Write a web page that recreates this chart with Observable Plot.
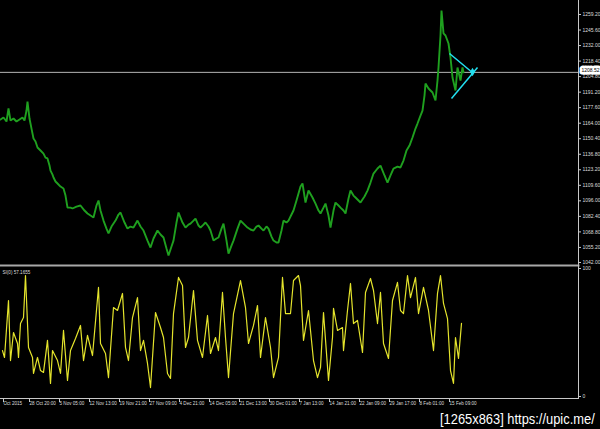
<!DOCTYPE html>
<html><head><meta charset="utf-8">
<script src="https://cdn.jsdelivr.net/npm/d3@7"></script>
<script src="https://cdn.jsdelivr.net/npm/@observablehq/plot@0.6"></script>
<style>
html,body{margin:0;padding:0;background:#000;}
#wrap{position:relative;width:600px;height:429px;background:#000;overflow:hidden;font-family:"Liberation Sans",Arial,sans-serif;}
#top{position:absolute;left:0;top:0;}
#bot{position:absolute;left:0;top:264px;}
#wm{position:absolute;left:440px;top:407px;}
svg{overflow:visible;}
</style></head><body>
<div id="wrap"><div id="top"></div><div id="bot"></div>
<svg id="wm" width="158" height="21"><text x="0" y="14.5" transform="scale(1,1.18)" fill="#fff" font-family="Liberation Sans" font-size="12.9">[1265x863] https://upic.me/</text></svg>
</div>
<script>
// ---- data ----
const priceBars = [
0,3,6,8,10,13,16,19,22,24,
26,27,29,31,33,35,37,40,43,45,
47,49,50,52,53,55,57,60,63,65,
67,70,72,76,80,84,87,90,93,96,
98,100,103,106,108,111,115,118,120,124,
127,130,133,137,140,143,147,150,153,157,
160,163,166,168,171,173,176,178,182,185,
188,190,193,195,198,200,203,205,208,210,
213,216,218,221,223,226,228,231,233,237,
240,244,247,250,253,256,258,261,263,266,
268,271,273,276,278,281,283,286,288,291,
293,296,298,300,302,305,308,312,315,318,
320,323,325,328,330,333,335,338,340,343,
345,348,350,353,355,358,360,364,367,370,
373,377,380,384,387,390,393,397,400,403,
406,409,412,415,417,420,422,424,425,428,
432,435,437,438,440,441,443,445,448,450,
452,455,457,460,462,463];
const priceClose = [
1167.2,1169.0,1165.5,1176.9,1166.3,1168.1,1165.5,1167.2,1169.0,1166.3,
1175.1,1183.0,1168.1,1159.3,1150.6,1148.0,1142.7,1140.1,1137.4,1133.9,
1133.1,1126.9,1122.5,1119.0,1116.4,1112.9,1111.2,1108.5,1106.8,1100.6,
1090.1,1090.1,1089.3,1091.0,1091.9,1087.5,1084.9,1083.1,1081.4,1091.9,
1096.3,1087.5,1078.7,1071.7,1067.4,1073.5,1078.7,1084.0,1085.8,1077.0,
1071.7,1073.5,1072.6,1078.7,1073.5,1070.0,1061.2,1055.1,1063.0,1070.0,
1066.5,1063.9,1054.2,1048.1,1056.0,1061.2,1077.0,1085.8,1077.0,1072.6,
1075.2,1076.1,1078.7,1080.5,1074.4,1072.6,1075.2,1077.0,1073.5,1070.0,
1061.2,1063.0,1063.9,1071.7,1076.1,1061.2,1049.8,1056.8,1061.2,1071.7,
1078.7,1075.2,1072.6,1070.9,1070.0,1073.5,1074.4,1071.7,1070.0,1073.5,
1071.7,1064.7,1061.2,1059.5,1059.5,1070.0,1078.7,1077.0,1078.7,1084.0,
1087.5,1096.3,1102.4,1108.5,1111.2,1094.5,1105.0,1098.9,1093.6,1087.5,
1084.9,1090.1,1093.6,1083.1,1072.6,1087.5,1094.5,1091.9,1090.1,1087.5,
1084.9,1098.0,1105.0,1100.6,1098.9,1096.3,1094.5,1099.8,1105.0,1112.0,
1119.9,1124.3,1126.9,1118.2,1112.0,1118.2,1124.3,1126.0,1125.2,1131.3,
1140.1,1144.4,1151.5,1159.3,1163.7,1170.7,1175.1,1188.2,1198.8,1194.4,
1190.9,1183.9,1201.4,1212.8,1240.8,1262.7,1242.6,1240.8,1233.8,1221.5,
1204.0,1192.6,1212.8,1201.4,1212.8,1208.52];

const oscBars = [
2,4,8,10,13,17,18,20,23,25, 28,32,33,37,40,43,47,50,52,57,
60,63,67,70,75,80,83,87,92,98, 100,105,108,113,117,122,125,128,132,137,
140,143,147,150,155,160,163,167,170,173, 178,182,185,188,193,197,202,207,210,215,
218,222,225,228,233,240,245,248,253,257, 260,265,270,273,278,282,285,290,293,298,
300,303,308,313,317,320,323,328,332,333, 337,342,343,347,350,353,357,362,365,370,
373,377,380,383,388,392,397,400,403,407, 410,415,418,423,428,433,437,440,443,447,
450,453,455,458,461];
const oscValues = [
35.9,30.5,75.0,28.1,50.0,41.4,30.5,57.0,61.7,94.5, 38.3,30.5,18.0,30.5,20.3,18.8,43.8,10.2,35.9,28.1,
18.0,51.6,12.5,35.9,45.3,55.5,28.1,47.7,32.0,85.2, 41.4,33.6,14.8,69.5,67.2,80.5,38.3,28.1,61.7,77.3,
35.9,43.8,25.8,7.0,65.6,53.9,46.1,18.0,14.1,64.8, 93.0,86.7,38.3,46.1,82.8,43.8,30.5,63.3,33.6,46.1,
35.9,81.3,46.1,14.8,64.8,90.6,69.5,41.4,55.5,71.1, 30.5,61.7,38.3,14.8,30.5,93.0,64.8,64.8,90.6,94.5,
86.7,43.8,67.2,28.1,14.8,22.7,65.6,12.5,46.1,68.8, 51.6,53.9,35.9,67.2,88.3,57.0,59.4,34.4,81.3,92.2,
82.8,57.0,81.3,41.4,29.7,75.0,89.1,67.2,64.8,94.5, 77.3,93.0,64.8,85.2,67.2,35.9,80.5,94.5,72.7,60.9,
20.3,10.2,46.1,29.7,57.1655];

const priceTicks = [1259.2,1245.6,1232.0,1218.4,1204.8,1191.2,1177.6,1164.0,1150.4,1136.8,1123.2,1109.6,1096.0,1082.4,1068.8,1055.2,1042.0];
const oscTicks = [0, 100];
const timeTickBars = [1,27,57,87,117,147,177,207,237,267,297,327,357,387,417,447];
const timeTickLabels = ["Oct 2015","28 Oct 20:00","5 Nov 05:00","12 Nov 13:00","19 Nov 21:00","27 Nov 09:00","4 Dec 21:00","14 Dec 05:00","21 Dec 13:00","30 Dec 01:00","7 Jan 13:00","14 Jan 21:00","22 Jan 09:00","29 Jan 17:00","8 Feb 01:00","15 Feb 09:00"];

// triangle pattern drawn on the chart
const patternStartBar = [449, 451];
const patternStartPrice = [1225.0, 1185.6];
const patternEndBar = [473, 477];
const patternEndPrice = [1207.5, 1212.8];
const apexBar = [472];
const apexPrice = [1208.8];

const indicatorName = "SI(0)";
const barCount = 578;

// ---- build tables ----
const price = priceBars.map((b, i) => ({bar: b, close: priceClose[i]}));
const osc = oscBars.map((b, i) => ({bar: b, v: oscValues[i]}));
const pattern = patternStartBar.map((b, i) => ({x1: b, y1: patternStartPrice[i], x2: patternEndBar[i], y2: patternEndPrice[i]}));
const apex = apexBar.map((b, i) => ({bar: b, p: apexPrice[i]}));
const lastPrice = priceClose[priceClose.length - 1];
const lastOsc = oscValues[oscValues.length - 1];

const green = "#1fa01f", yellow = "#e4e42c", cyan = "#22e0f0", axisCol = "#c8c8c8", txt = "#dcdcdc";

const topPlot = Plot.plot({
  width: 600, height: 265,
  marginLeft: 0, marginRight: 22, marginTop: 0, marginBottom: 0,
  style: {background: "transparent", color: txt, fontFamily: "Liberation Sans, Arial, sans-serif"},
  x: {domain: [0, barCount], axis: null, label: null},
  y: {domain: [1039.37, 1271.46], axis: null, label: null},
  marks: [
    Plot.ruleY([lastPrice], {stroke: "#b4b4b4", strokeWidth: 1}),
    Plot.line(price, {x: "bar", y: "close", stroke: green, strokeWidth: 1.9, strokeLinejoin: "miter"}),
    Plot.link(pattern, {x1: "x1", y1: "y1", x2: "x2", y2: "y2", stroke: cyan, strokeWidth: 1.5}),
    Plot.dot(apex, {x: "bar", y: "p", r: 2.6, fill: cyan, symbol: "diamond"}),
    Plot.frame({anchor: "right", stroke: axisCol}),
    Plot.axisY(priceTicks, {anchor: "right", label: null, tickFormat: d => d.toFixed(2), tickSize: 2, tickPadding: 2, fontSize: 5, fill: txt, stroke: axisCol}),
    Plot.text([lastPrice], {frameAnchor: "right", y: d => d, text: d => d.toFixed(2), textAnchor: "start", dx: 3, dy: -1.5, fontSize: 5, fill: "#000", stroke: "#fff", strokeWidth: 5, paintOrder: "stroke"})
  ]
});
document.getElementById("top").appendChild(topPlot);

const botPlot = Plot.plot({
  width: 600, height: 165,
  marginLeft: 0, marginRight: 22, marginTop: 1, marginBottom: 31,
  style: {background: "transparent", color: txt, fontFamily: "Liberation Sans, Arial, sans-serif"},
  x: {domain: [0, barCount], axis: null, label: null},
  y: {domain: [0, 100], insetTop: 3, insetBottom: 2, axis: null, label: null},
  marks: [
    Plot.frame({anchor: "top", stroke: "#a8a8a8", strokeWidth: 2}),
    Plot.frame({anchor: "bottom", stroke: axisCol}),
    Plot.frame({anchor: "right", stroke: axisCol}),
    Plot.line(osc, {x: "bar", y: "v", stroke: yellow, strokeWidth: 1.2}),
    Plot.axisY(oscTicks, {anchor: "right", label: null, tickSize: 2, tickPadding: 2, fontSize: 5, fill: txt, stroke: axisCol}),
    Plot.axisX(timeTickBars, {anchor: "bottom", label: null, tickFormat: d => timeTickLabels[timeTickBars.indexOf(d)], textAnchor: "start", tickSize: 4, tickPadding: -1, dx: 2, fontSize: 4.6, fill: txt, stroke: axisCol}),
    Plot.text([`${indicatorName} ${lastOsc.toFixed(4)}`], {frameAnchor: "top-left", dx: 2, dy: 5, fontSize: 4.6, fill: txt, textAnchor: "start"})
  ]
});
document.getElementById("bot").appendChild(botPlot);
</script>
</body></html>
